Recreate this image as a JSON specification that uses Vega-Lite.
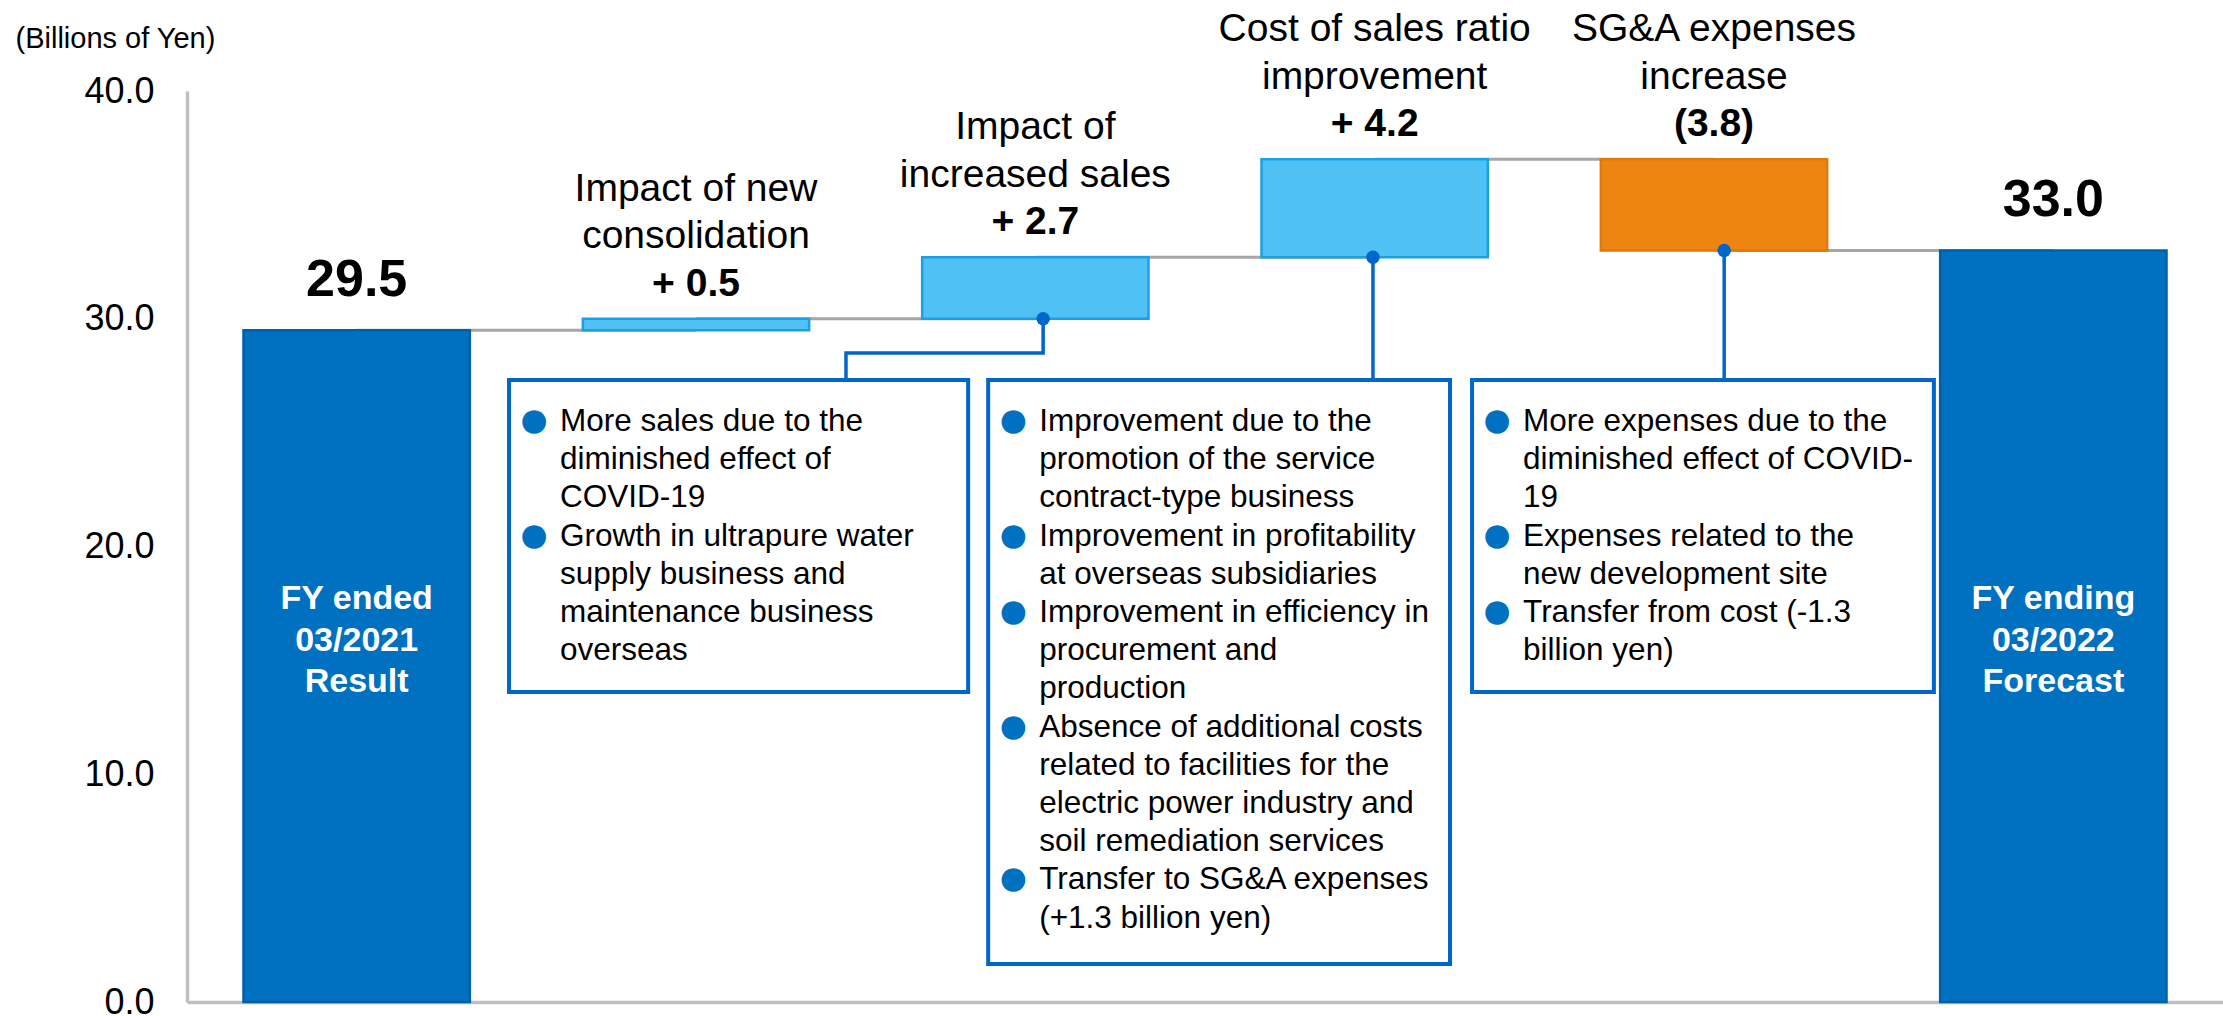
{
  "$schema": "https://vega.github.io/schema/vega-lite/v6.json",
  "width": 2036,
  "height": 911,
  "autosize": {"type": "none"},
  "padding": {"left": 187, "top": 91, "right": 0, "bottom": 14},
  "background": "white",
  "config": {"font": "Liberation Sans", "view": {"stroke": null}},
  "datasets": {
    "bars": [
      {"cat": "FY2021", "low": 0, "high": 29.5, "kind": "total", "label": "29.5", "inner": "FY ended\n03/2021\nResult"},
      {"cat": "Consolidation", "low": 29.5, "high": 30.0, "kind": "up", "label": "+ 0.5", "title": "Impact of new\nconsolidation"},
      {"cat": "Sales", "low": 30.0, "high": 32.7, "kind": "up", "label": "+ 2.7", "title": "Impact of\nincreased sales"},
      {"cat": "CostRatio", "low": 32.7, "high": 37.0, "kind": "up", "label": "+ 4.2", "title": "Cost of sales ratio\nimprovement"},
      {"cat": "SGA", "low": 33.0, "high": 37.0, "kind": "down", "label": "(3.8)", "title": "SG&A expenses\nincrease"},
      {"cat": "FY2022", "low": 0, "high": 33.0, "kind": "total", "label": "33.0", "inner": "FY ending\n03/2022\nForecast"}
    ],
    "links": [
      {"from": "FY2021", "to": "Consolidation", "level": 29.5},
      {"from": "Consolidation", "to": "Sales", "level": 30.0},
      {"from": "Sales", "to": "CostRatio", "level": 32.7},
      {"from": "CostRatio", "to": "SGA", "level": 37.0},
      {"from": "SGA", "to": "FY2022", "level": 33.0}
    ],
    "callouts": [
      {"path": "a", "k": 0, "p": 2.523, "v": 30.0},
      {"path": "a", "k": 1, "p": 2.523, "v": 28.5},
      {"path": "a", "k": 2, "p": 1.942, "v": 28.5},
      {"path": "a", "k": 3, "p": 1.942, "v": 27.31},
      {"path": "b", "k": 0, "p": 3.495, "v": 32.7},
      {"path": "b", "k": 1, "p": 3.495, "v": 27.31},
      {"path": "c", "k": 0, "p": 4.53, "v": 33.0},
      {"path": "c", "k": 1, "p": 4.53, "v": 27.31}
    ],
    "boxes": [
      {"box": "1", "x0": 0.949, "x1": 2.302, "y0": 27.31, "y1": 13.61,
       "lines": "More sales due to the\ndiminished effect of\nCOVID-19\nGrowth in ultrapure water\nsupply business and\nmaintenance business\noverseas",
       "bullets": "●\n\u2800\n\u2800\n●"},
      {"box": "2", "x0": 2.361, "x1": 3.722, "y0": 27.31, "y1": 1.67,
       "lines": "Improvement due to the\npromotion of the service\ncontract-type business\nImprovement in profitability\nat overseas subsidiaries\nImprovement in efficiency in\nprocurement and\nproduction\nAbsence of additional costs\nrelated to facilities for the\nelectric power industry and\nsoil remediation services\nTransfer to SG&A expenses\n(+1.3 billion yen)",
       "bullets": "●\n\u2800\n\u2800\n●\n\u2800\n●\n\u2800\n\u2800\n●\n\u2800\n\u2800\n\u2800\n●"},
      {"box": "3", "x0": 3.787, "x1": 5.148, "y0": 27.31, "y1": 13.61,
       "lines": "More expenses due to the\ndiminished effect of COVID-\n19\nExpenses related to the\nnew development site\nTransfer from cost (-1.3\nbillion yen)",
       "bullets": "●\n\u2800\n\u2800\n●\n\u2800\n●"}
    ]
  },
  "layer": [
    {
      "layer": [
        {
          "data": {"name": "links"},
          "mark": {"type": "rule", "color": "#A6A6A6", "strokeWidth": 3},
          "encoding": {
            "x": {"field": "from", "type": "nominal",
                  "scale": {"domain": ["FY2021", "Consolidation", "Sales", "CostRatio", "SGA", "FY2022"], "paddingInner": 0.333, "paddingOuter": 0.1665},
                  "axis": {"labels": false, "ticks": false, "title": null, "grid": false, "domainColor": "#BFBFBF", "domainWidth": 3.5}},
            "x2": {"field": "to"},
            "y": {"field": "level", "type": "quantitative", "title": "(Billions of Yen)",
                  "scale": {"domain": [0, 40], "nice": false},
                  "axis": {"values": [0, 10, 20, 30, 40], "format": ".1f", "labelFontSize": 36, "labelColor": "#000000",
                           "labelPadding": 33, "ticks": false, "grid": false, "domainColor": "#BFBFBF", "domainWidth": 3.5,
                           "titleAngle": 0, "titleAlign": "left", "titleBaseline": "middle", "titleX": -172, "titleY": -53,
                           "titleFontSize": 29, "titleFontWeight": "normal", "titleColor": "#000000"}}
          }
        },
        {
          "data": {"name": "bars"},
          "mark": {"type": "bar", "strokeWidth": 2.5},
          "encoding": {
            "x": {"field": "cat", "type": "nominal",
                  "scale": {"domain": ["FY2021", "Consolidation", "Sales", "CostRatio", "SGA", "FY2022"], "paddingInner": 0.333, "paddingOuter": 0.1665}},
            "y": {"field": "low", "type": "quantitative", "title": "(Billions of Yen)", "scale": {"domain": [0, 40], "nice": false}},
            "y2": {"field": "high"},
            "fill": {"field": "kind", "type": "nominal", "scale": {"domain": ["total", "up", "down"], "range": ["#0070C0", "#4FC1F5", "#EE8510"]}, "legend": null},
            "stroke": {"field": "kind", "type": "nominal", "scale": {"domain": ["total", "up", "down"], "range": ["#0060A8", "#1BA1E2", "#DC7A0C"]}, "legend": null}
          }
        },
        {
          "data": {"name": "bars"},
          "transform": [{"filter": "datum.kind != 'total'"}],
          "mark": {"type": "text", "fontWeight": "bold", "fontSize": 39, "dy": -23, "baseline": "alphabetic", "align": "center", "color": "#000000"},
          "encoding": {
            "x": {"field": "cat", "type": "nominal"},
            "y": {"field": "high", "type": "quantitative", "title": "(Billions of Yen)"},
            "text": {"field": "label"}
          }
        },
        {
          "data": {"name": "bars"},
          "transform": [{"filter": "datum.kind != 'total'"}],
          "mark": {"type": "text", "fontSize": 39, "lineHeight": 47.5, "lineBreak": "\n", "dy": -118, "baseline": "alphabetic", "align": "center", "color": "#000000"},
          "encoding": {
            "x": {"field": "cat", "type": "nominal"},
            "y": {"field": "high", "type": "quantitative", "title": "(Billions of Yen)"},
            "text": {"field": "title"}
          }
        },
        {
          "data": {"name": "bars"},
          "transform": [{"filter": "datum.kind == 'total'"}],
          "mark": {"type": "text", "fontWeight": "bold", "fontSize": 52, "dy": -34, "baseline": "alphabetic", "align": "center", "color": "#000000"},
          "encoding": {
            "x": {"field": "cat", "type": "nominal"},
            "y": {"field": "high", "type": "quantitative", "title": "(Billions of Yen)"},
            "text": {"field": "label"}
          }
        },
        {
          "data": {"name": "bars"},
          "transform": [{"filter": "datum.kind == 'total'"}],
          "mark": {"type": "text", "fontWeight": "bold", "fontSize": 34, "lineHeight": 41.5, "lineBreak": "\n", "dy": -393, "baseline": "alphabetic", "align": "center", "color": "#FFFFFF"},
          "encoding": {
            "x": {"field": "cat", "type": "nominal"},
            "y": {"field": "low", "type": "quantitative", "title": "(Billions of Yen)"},
            "text": {"field": "inner"}
          }
        }
      ]
    },
    {
      "layer": [
        {
          "data": {"name": "callouts"},
          "mark": {"type": "line", "color": "#0066CC", "strokeWidth": 3.5},
          "encoding": {
            "x": {"field": "p", "type": "quantitative", "scale": {"domain": [0, 6], "nice": false, "zero": false}, "axis": null},
            "y": {"field": "v", "type": "quantitative", "title": "(Billions of Yen)"},
            "detail": {"field": "path"},
            "order": {"field": "k", "type": "quantitative"}
          }
        },
        {
          "data": {"name": "callouts"},
          "transform": [{"filter": "datum.k == 0"}],
          "mark": {"type": "point", "filled": true, "size": 180, "color": "#0066CC", "opacity": 1},
          "encoding": {
            "x": {"field": "p", "type": "quantitative"},
            "y": {"field": "v", "type": "quantitative", "title": "(Billions of Yen)"}
          }
        },
        {
          "data": {"name": "boxes"},
          "mark": {"type": "rect", "fill": "#FFFFFF", "stroke": "#0066CC", "strokeWidth": 4},
          "encoding": {
            "x": {"field": "x0", "type": "quantitative"},
            "x2": {"field": "x1"},
            "y": {"field": "y0", "type": "quantitative", "title": "(Billions of Yen)"},
            "y2": {"field": "y1"}
          }
        },
        {
          "data": {"name": "boxes"},
          "mark": {"type": "text", "fontSize": 31.5, "lineHeight": 38.2, "lineBreak": "\n", "dx": 51, "dy": 51, "baseline": "alphabetic", "align": "left", "color": "#000000"},
          "encoding": {
            "x": {"field": "x0", "type": "quantitative"},
            "y": {"field": "y0", "type": "quantitative", "title": "(Billions of Yen)"},
            "text": {"field": "lines"}
          }
        },
        {
          "data": {"name": "boxes"},
          "mark": {"type": "text", "font": "DejaVu Sans", "fontSize": 31, "lineHeight": 38.2, "lineBreak": "\n", "dx": 25, "dy": 50, "baseline": "alphabetic", "align": "center", "color": "#0070C0"},
          "encoding": {
            "x": {"field": "x0", "type": "quantitative"},
            "y": {"field": "y0", "type": "quantitative", "title": "(Billions of Yen)"},
            "text": {"field": "bullets"}
          }
        }
      ]
    }
  ],
  "resolve": {"scale": {"x": "independent"}, "axis": {"x": "independent"}}
}
